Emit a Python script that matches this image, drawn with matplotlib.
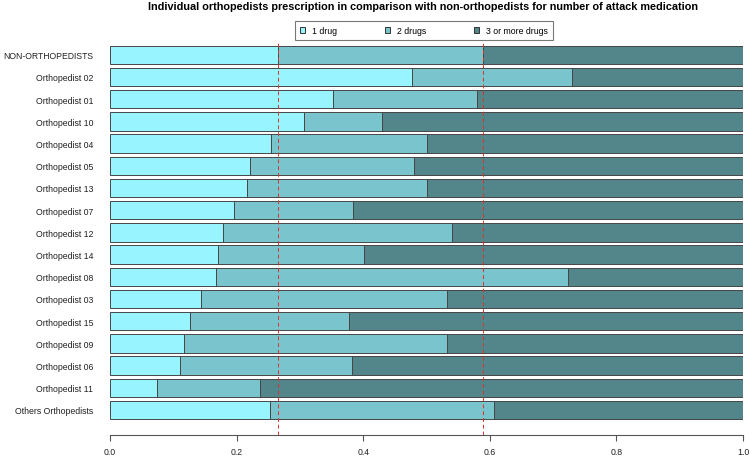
import matplotlib
matplotlib.use("Agg")
import matplotlib.pyplot as plt
from matplotlib.patches import Patch

plt.rcParams['font.family'] = ['Liberation Sans', 'DejaVu Sans']

# groups, top to bottom
groups = ['NON-ORTHOPEDISTS', 'Orthopedist 02', 'Orthopedist 01', 'Orthopedist 10',
          'Orthopedist 04', 'Orthopedist 05', 'Orthopedist 13', 'Orthopedist 07',
          'Orthopedist 12', 'Orthopedist 14', 'Orthopedist 08', 'Orthopedist 03',
          'Orthopedist 15', 'Orthopedist 09', 'Orthopedist 06', 'Orthopedist 11',
          'Others Orthopedists']

# share of patients by number of attack medications
one_drug = [0.265, 0.477, 0.353, 0.307, 0.255, 0.221, 0.216, 0.196, 0.178,
            0.170, 0.168, 0.144, 0.127, 0.117, 0.111, 0.075, 0.253]
two_drugs = [0.325, 0.253, 0.227, 0.122, 0.246, 0.260, 0.285, 0.188, 0.363,
             0.232, 0.556, 0.388, 0.250, 0.415, 0.271, 0.162, 0.354]
three_plus = [0.410, 0.270, 0.420, 0.571, 0.499, 0.519, 0.499, 0.616, 0.459,
              0.598, 0.276, 0.468, 0.623, 0.468, 0.618, 0.763, 0.393]

series_labels = ['1 drug', '2 drugs', '3 or more drugs']
colors = ['#98F5FF', '#7AC5CD', '#53868B']
x_ticks = [0.0, 0.2, 0.4, 0.6, 0.8, 1.0]

W, H = 753, 460
fig = plt.figure(figsize=(W / 100, H / 100), dpi=100)
ax = fig.add_axes([110 / W, 1 - 436 / H, 633 / W, (436 - 43.3) / H])

ypos = list(range(len(groups)))
left = [0.0] * len(groups)
for vals, col in zip([one_drug, two_drugs, three_plus], colors):
    ax.barh(ypos, vals, left=left, height=0.83, color=col,
            edgecolor='#464646', linewidth=0.7)
    left = [l + v for l, v in zip(left, vals)]

# reference lines: non-orthopedists cumulative shares
ref1 = one_drug[0]
ref2 = one_drug[0] + two_drugs[0]
for r in (ref1, ref2):
    ax.axvline(r, color='#d9332b', linestyle=(0, (4, 3)), linewidth=0.7, zorder=5)

ax.set_xlim(0, 1)
ax.set_ylim(17.13, -0.56)
ax.set_yticks(ypos)
ax.set_yticklabels(groups, fontsize=6.3, color='#222222')
ax.get_yticklabels()[0].set_fontsize(6.2)
ax.tick_params(axis='y', length=0, pad=12)
ax.set_xticks(x_ticks)
ax.set_xticklabels([f'{t:.1f}' for t in x_ticks], fontsize=6.3, color='#222222')
ax.tick_params(axis='x', length=4, width=0.8, color='#555555', pad=4.8)
for s in ('top', 'right', 'left'):
    ax.spines[s].set_visible(False)
ax.spines['bottom'].set_color('#555555')
ax.spines['bottom'].set_linewidth(0.8)

fig.text(423 / W, 1 - 7.5 / H, 'Individual orthopedists prescription in comparison with '
         'non-orthopedists for number of attack medication',
         ha='center', va='center', fontsize=7.8, fontweight='bold')

handles = [Patch(facecolor=c, edgecolor='#333333', linewidth=0.7) for c in colors]
leg = fig.legend(handles, series_labels, ncol=3, loc='lower left',
                 bbox_to_anchor=(295 / W, 1 - 41 / H, (553 - 295) / W, 21.3 / H),
                 mode='expand', fontsize=6.3, frameon=True, fancybox=False,
                 handlelength=0.6, handleheight=0.6, handletextpad=0.8,
                 borderaxespad=0, borderpad=0.55)
leg.get_frame().set_edgecolor('#555555')
leg.get_frame().set_linewidth(0.8)

fig.savefig('out.png', dpi=100)
